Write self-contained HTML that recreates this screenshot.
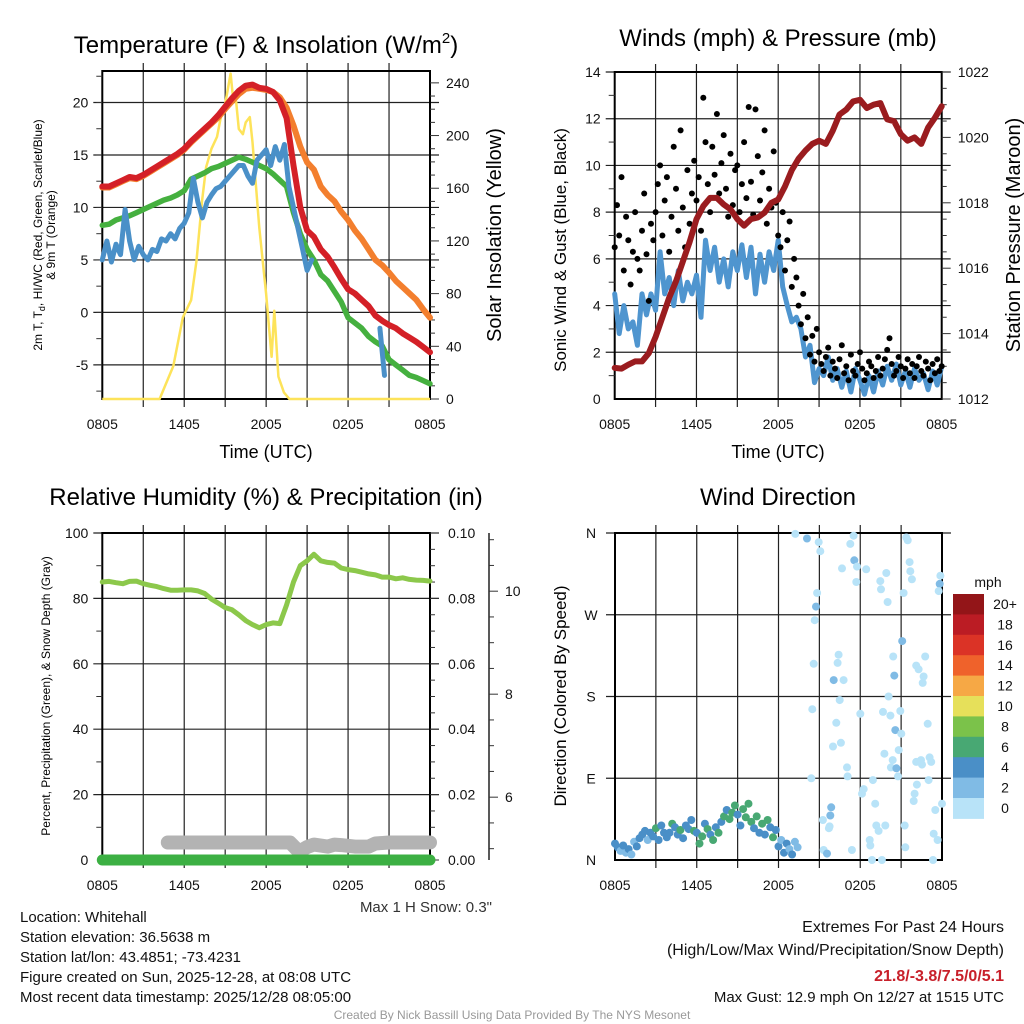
<!DOCTYPE html>
<html><head><meta charset="utf-8"><title>Mesonet Station Chart</title>
<style>
html,body{margin:0;padding:0;background:#fff;}
svg{display:block;font-family:"Liberation Sans",Arial,sans-serif;}
</style></head>
<body>
<svg id="chart" xmlns="http://www.w3.org/2000/svg" width="1024" height="1024" viewBox="0 0 1024 1024">
<rect width="1024" height="1024" fill="#fff"/>
<g id="p1"></g>
<g id="p2"></g>
<g id="p3"></g>
<g id="p4"></g>

<text x="266" y="53" text-anchor="middle" font-size="24">Temperature (F) &amp; Insolation (W/m<tspan dy="-10" font-size="15">2</tspan><tspan dy="10">)</tspan></text>
<text x="778" y="46" text-anchor="middle" font-size="24">Winds (mph) &amp; Pressure (mb)</text>
<text x="266" y="505" text-anchor="middle" font-size="24">Relative Humidity (%) &amp; Precipitation (in)</text>
<text x="778" y="505" text-anchor="middle" font-size="24">Wind Direction</text>

<text x="266" y="458" text-anchor="middle" font-size="18">Time (UTC)</text>
<text x="778" y="458" text-anchor="middle" font-size="18">Time (UTC)</text>
<text transform="translate(42,235) rotate(-90)" text-anchor="middle" font-size="12">2m T, T<tspan dy="3" font-size="9">d</tspan><tspan dy="-3">, HI/WC (Red, Green, Scarlet/Blue)</tspan></text>
<text transform="translate(55,235) rotate(-90)" text-anchor="middle" font-size="12">&amp; 9m T (Orange)</text>
<text transform="translate(501,235) rotate(-90)" text-anchor="middle" font-size="20">Solar Insolation (Yellow)</text>
<text transform="translate(566,250) rotate(-90)" text-anchor="middle" font-size="17">Sonic Wind &amp; Gust (Blue, Black)</text>
<text transform="translate(1020,235) rotate(-90)" text-anchor="middle" font-size="20">Station Pressure (Maroon)</text>
<text transform="translate(50,696) rotate(-90)" text-anchor="middle" font-size="12">Percent, Precipitation (Green), &amp; Snow Depth (Gray)</text>
<text transform="translate(566,696) rotate(-90)" text-anchor="middle" font-size="17">Direction (Colored By Speed)</text>

<text x="492" y="912" text-anchor="end" font-size="15" fill="#333">Max 1 H Snow: 0.3"</text>
<g font-size="15" fill="#111">
<text x="20" y="922">Location: Whitehall</text>
<text x="20" y="942">Station elevation: 36.5638 m</text>
<text x="20" y="962">Station lat/lon: 43.4851; -73.4231</text>
<text x="20" y="982">Figure created on Sun, 2025-12-28, at 08:08 UTC</text>
<text x="20" y="1002">Most recent data timestamp: 2025/12/28 08:05:00</text>
</g>
<g font-size="16" fill="#111" text-anchor="end">
<text x="1004" y="932">Extremes For Past 24 Hours</text>
<text x="1004" y="955">(High/Low/Max Wind/Precipitation/Snow Depth)</text>
<text x="1004" y="981" fill="#c8202a" font-weight="bold">21.8/-3.8/7.5/0/5.1</text>
<text x="1004" y="1002" font-size="15">Max Gust: 12.9 mph On 12/27 at 1515 UTC</text>
</g>
<text x="512" y="1019" text-anchor="middle" font-size="12" fill="#999">Created By Nick Bassill Using Data Provided By The NYS Mesonet</text>
</svg>
<script>
// ---------- DATA ----------
const xTickLabels = ["0805","1405","2005","0205","0805"];
const halfHours = [0,0.5,1,1.5,2,2.5,3,3.5,4,4.5,5,5.5,6,6.5,7,7.5,8,8.5,9,9.5,10,10.5,11,11.5,12,12.5,13,13.5,14,14.5,15,15.5,16,16.5,17,17.5,18,18.5,19,19.5,20,20.5,21,21.5,22,22.5,23,23.5,24];
const temp2m = [12.0,12.0,12.3,12.6,12.9,12.8,13.1,13.5,13.9,14.3,14.7,15.1,15.6,16.3,16.9,17.5,18.1,18.8,19.6,20.4,21.1,21.6,21.7,21.4,21.3,21.0,20.2,18.5,14.0,10.0,7.8,7.2,6.0,5.3,4.3,3.2,2.2,1.8,1.2,0.6,-0.3,-0.8,-1.2,-1.5,-2.0,-2.4,-2.8,-3.3,-3.8];
const temp9m = [11.9,11.9,12.2,12.5,12.8,12.7,13.0,13.4,13.8,14.2,14.6,15.0,15.5,16.2,16.8,17.4,18.0,18.6,19.4,20.1,20.8,21.3,21.4,21.3,21.2,21.0,20.5,19.5,17.8,15.8,14.3,13.6,12.0,11.2,10.6,9.6,8.8,7.8,7.0,6.0,5.0,4.5,3.8,3.0,2.4,1.8,1.2,0.3,-0.5];
const dewpoint = [8.3,8.4,8.8,9.0,9.2,9.5,9.8,10.1,10.4,10.7,10.9,11.2,11.6,12.7,13.0,13.3,13.7,13.9,14.2,14.5,14.8,14.6,14.3,14.0,13.7,13.2,12.6,12.0,9.5,7.5,6.0,5.0,3.6,3.0,2.0,1.0,-0.5,-1.0,-1.5,-2.3,-2.8,-3.2,-4.5,-5.0,-5.5,-6.0,-6.2,-6.5,-6.8];
const windChill = [5.0,6.8,4.8,6.5,5.5,9.8,6.8,5.0,6.3,5.5,5.0,6.0,5.8,7.0,6.8,7.5,7.0,8.0,8.5,9.5,12.8,10.5,9.0,10.5,11.2,11.8,12.0,12.5,13.0,13.5,14.0,14.0,13.0,12.3,14.5,15.0,15.5,14.0,15.8,14.5,16.0,12.0,10.0,8.0,6.0,4.0,5.0,null,null,null,null,null,null,null,null,null,null,null,null,null,null,-1.5,-6.0,null,null,null,null,null,null,null,null,null,null];
const solarTimes = [0,4.2,5.2,5.9,6.5,6.9,7.3,7.6,8.0,8.4,8.7,9.0,9.4,9.6,9.8,10.0,10.3,10.5,10.8,11.0,11.5,12.0,12.4,12.6,12.9,13.3,13.7,24];
const solarValues = [0,0,25,62,75,105,150,176,190,199,215,224,247,226,226,205,201,210,214,195,130,80,32,67,17,5,0,0];
const pressure = [1012.95,1012.93,1013.05,1013.15,1013.15,1013.4,1013.9,1014.5,1015.1,1015.6,1016.2,1016.8,1017.5,1017.9,1018.15,1018.15,1017.95,1017.8,1017.5,1017.3,1017.5,1017.55,1017.7,1018.0,1018.1,1018.5,1019.0,1019.35,1019.6,1019.8,1019.9,1019.8,1020.2,1020.7,1020.85,1021.1,1021.15,1020.9,1021.0,1021.05,1020.55,1020.5,1020.1,1019.9,1020.0,1019.8,1020.3,1020.6,1020.95];
const windSpeed = [4.5,2.8,4.0,3.0,3.3,2.3,4.5,3.6,4.5,3.8,6.3,4.5,5.2,4.0,5.5,4.2,5.0,4.5,5.3,3.5,6.8,5.5,6.5,5.0,6.0,4.8,6.3,5.5,6.6,5.2,6.5,4.5,6.2,5.0,6.3,5.5,6.8,4.8,4.0,3.3,3.5,3.0,1.8,2.3,0.7,1.3,1.0,1.8,0.8,1.3,0.5,1.2,0.3,1.3,0.8,0.2,1.0,0.3,1.2,0.6,1.4,0.8,1.5,0.6,1.2,0.5,1.3,0.8,1.1,0.4,1.2,0.6,1.4];
const windGust = [6.5,8.3,7.0,9.5,5.5,7.8,6.8,4.9,6.3,8.0,6.0,5.5,7.2,8.8,6.2,4.2,7.5,6.8,
8.0,9.2,10.0,7.0,8.5,9.5,6.3,7.8,10.8,9.0,7.2,11.5,8.2,6.5,9.8,7.5,8.8,10.2,
8.5,9.5,7.2,12.9,11.0,9.2,8.0,10.8,9.6,12.2,8.8,10.1,11.3,9.0,7.8,10.5,8.3,9.8,
10.0,8.0,9.2,11.0,8.6,12.5,9.3,7.9,12.4,10.4,8.5,9.7,11.5,7.5,9.0,8.2,10.6,8.4,
7.0,6.5,8.0,5.5,6.8,7.6,4.8,6.0,5.2,
4.0,3.2,4.5,2.6,3.5,1.9,2.7,1.6,3.0,
2.0,1.5,1.2,1.8,2.2,1.0,1.6,1.3,0.9,1.7,2.3,1.1,1.4,0.8,1.9,1.2,1.0,1.5,2.0,1.3,0.8,1.1,1.6,1.4,0.9,1.2,1.8,1.0,1.3,1.7,2.1,2.6,1.5,1.0,1.2,1.8,1.4,0.9,1.3,1.7,1.1,1.5,0.9,1.4,1.8,1.2,1.0,1.6,1.3,0.8,1.5,1.1,1.7,1.2,1.4];
const humidity = [85,85.2,84.8,84.5,85.2,85.3,84.5,84.0,83.6,83.0,82.5,82.5,82.6,82.6,82.3,81.5,79.8,78.5,77.2,76.5,75.0,73.2,72.0,71.0,72.0,72.5,72.3,78.0,85.0,90.0,91.5,93.5,91.5,91.0,90.8,89.3,88.8,88.5,88.0,87.5,87.2,86.5,86.5,86.0,86.3,85.8,85.6,85.5,85.3];
const precip = [0,0,0,0,0,0,0,0,0,0,0,0,0,0,0,0,0,0,0,0,0,0,0,0,0,0,0,0,0,0,0,0,0,0,0,0,0,0,0,0,0,0,0,0,0,0,0,0,0];
const snowTimes = [4.8,13.75,14.3,14.6,15.0,15.5,16.0,16.5,17.0,17.5,18.5,19.5,20.0,21.0,22.0,23.0,24];
const snowDepth = [5.12,5.12,4.97,4.97,5.03,5.08,5.06,5.04,5.08,5.07,5.04,5.04,5.10,5.12,5.12,5.12,5.12];
const dirEarly = [18,14,10,16,8,12,6,20,15,24,28,32,22,30,26,35,22,38,30,25,30,40,36,28,33,24,38,34,44,32,30,18,26,40,34,28,22,36,30,42,48,55,45,52,60,50,38,56,47,62,42,35,48,30,40,28,44,36,25,33,15,22,8,18,12,6,20,14];
const spdEarly = [4,4,2,4,2,4,2,3,4,4,4,4,3,4,5,6,4,4,5,4,4,6,5,4,6,4,5,4,4,7,5,7,6,5,6,4,7,5,6,5,6,5,6,7,6,5,4,6,6,7,6,5,6,4,7,5,6,4,6,4,4,3,4,4,2,4,3,2];
const dirLateTimes = [13.23,14.09,14.83,14.75,14.66,14.58,14.48,14.41,14.95,15.07,16.05,16.41,16.34,16.78,16.49,16.24,16.58,16.00,17.03,17.07,15.87,15.80,15.26,15.75,15.70,15.31,15.56,16.66,17.27,17.51,17.56,17.76,18.44,17.71,18.00,18.13,18.25,18.93,19.10,19.18,19.35,18.69,18.74,17.39,18.86,19.59,19.91,19.47,19.52,20.01,20.08,19.67,20.21,20.94,20.57,21.01,20.82,19.77,20.38,20.25,20.65,20.77,19.84,21.26,21.31,21.08,20.50,20.42,21.18,21.48,21.38,21.62,21.67,21.79,22.11,22.28,22.77,22.65,22.58,22.95,22.16,22.46,22.53,23.09,23.21,23.02,21.99,21.92,23.39,23.68,23.51,24.0,23.34,23.88,23.83,23.76,22.11];
const dirLate = [359,354,294,279,264,216,166,90,350,340,198,226,217,198,176,151,129,125,102,92,58,49,44,37,35,11,7,321,348,357,330,323,320,306,161,73,78,88,62,38,32,22,16,11,0,0,316,307,298,284,180,163,159,164,143,139,121,117,110,102,101,92,38,38,14,241,203,224,294,352,355,328,318,309,214,210,224,202,195,150,83,110,105,113,108,88,73,65,29,22,55,62,0,313,304,296,108];
const spdLate = [1,3,1,3,1,1,1,1,1,1,3,1,1,1,1,1,1,1,1,1,3,3,1,1,1,1,3,1,1,1,3,1,1,1,1,1,1,1,1,1,1,1,1,1,1,1,1,1,1,1,1,1,1,1,3,1,1,1,1,1,3,1,1,1,1,3,3,1,1,1,1,1,1,1,1,1,1,1,1,1,1,1,1,1,1,1,1,1,1,1,1,1,1,1,3,1,1];
const speedBins = ["20+","18","16","14","12","10","8","6","4","2","0"];
const speedColors = ["#931518","#bb1c24","#db3326","#ef622b","#f6a845","#e6e05a","#7bc24a","#48a873","#4a8fc7","#80bbe5","#b8e3f8"];

// ---------- HELPERS ----------
const NS = "http://www.w3.org/2000/svg";
function mk(parent, tag, attrs){
  const e = document.createElementNS(NS, tag);
  for (const k in attrs) e.setAttribute(k, attrs[k]);
  parent.appendChild(e);
  return e;
}
function lin(d0,d1,r0,r1){ return v => r0 + (v-d0)/(d1-d0)*(r1-r0); }
function pathD(xs, ys, xf, yf){
  let d = "", pen = false;
  for (let i=0;i<xs.length;i++){
    if (ys[i]===null || ys[i]===undefined){ pen=false; continue; }
    d += (pen?"L":"M") + xf(xs[i]).toFixed(1) + "," + yf(ys[i]).toFixed(1);
    pen = true;
  }
  return d;
}
function idxTimes(n, step){ const a=[]; for(let i=0;i<n;i++) a.push(i*step); return a; }

function frame(g, L, R, T, B, hLines, vLines){
  for (const y of hLines){
    const l = mk(g,"line",{x1:L-9,x2:R+9,y1:y,y2:y,stroke:"#222","stroke-width":1.2});
    
    
  }
  for (const x of vLines){
    const l = mk(g,"line",{x1:x,x2:x,y1:T-8,y2:B+8,stroke:"#222","stroke-width":1.2});
    
    
  }
  const b = mk(g,"rect",{x:L,y:T,width:R-L,height:B-T,fill:"none",stroke:"#000","stroke-width":2});
  
  
}
function tick(g,x1,y1,x2,y2){
  const t = mk(g,"line",{x1:x1,y1:y1,x2:x2,y2:y2,stroke:"#333","stroke-width":1});
  
  
}
function label(g,x,y,txt,anchor,size){
  const t = mk(g,"text",{x:x,y:y,"text-anchor":anchor,"font-size":size||14,fill:"#111"});
  t.textContent = txt;
  
  
  return t;
}

// ---------- PANEL 1 ----------
(function(){
  const g = document.getElementById("p1");
  const L=102.3,R=430,T=71,B=399;
  const xs = lin(0,24,L,R), ys = lin(-8.25,23,B,T), yr = lin(0,249,B,T);
  const h=[]; for(let v=-5;v<=20;v+=5) h.push(ys(v));
  const vl=[]; for(let t=3;t<24;t+=3) vl.push(xs(t));
  frame(g,L,R,T,B,h,vl);
  for(let v=-7.5;v<=22.5;v+=2.5) tick(g,L-6,ys(v),L,ys(v));
  for(let v=-5;v<=20;v+=5) label(g,L-14,ys(v)+5,String(v),"end");
  for(let v=0;v<=240;v+=10) tick(g,R,yr(v),R+(v%40===0?9:5),yr(v));
  for(let v=0;v<=240;v+=40) label(g,R+16,yr(v)+5,String(v),"start");
  for(let i=0;i<xTickLabels.length;i++) label(g,xs(i*6),B+30,xTickLabels[i],"middle");
  const sol = mk(g,"path",{d:pathD(solarTimes,solarValues,xs,yr),fill:"none",stroke:"#fde35a","stroke-width":2.5,"stroke-linejoin":"round"});
  
  
  const o = mk(g,"path",{d:pathD(halfHours,temp9m,xs,ys),fill:"none",stroke:"#f37f2e","stroke-width":6,"stroke-linejoin":"round","stroke-linecap":"round"});
  
  
  const gr = mk(g,"path",{d:pathD(halfHours,dewpoint,xs,ys),fill:"none",stroke:"#45b03f","stroke-width":5.5,"stroke-linejoin":"round","stroke-linecap":"round"});
  
  
  const bl = mk(g,"path",{d:pathD(idxTimes(windChill.length,1/3),windChill,xs,ys),fill:"none",stroke:"#4a90c8","stroke-width":5,"stroke-linejoin":"round","stroke-linecap":"round"});
  
  
  const r = mk(g,"path",{d:pathD(halfHours,temp2m,xs,ys),fill:"none",stroke:"#d42027","stroke-width":6,"stroke-linejoin":"round","stroke-linecap":"round"});
  
  
})();

// ---------- PANEL 2 ----------
(function(){
  const g = document.getElementById("p2");
  const L=614.7,R=941.7,T=72,B=399;
  const xs = lin(0,24,L,R), ys = lin(0,14,B,T), yp = lin(1012,1022,B,T);
  const h=[]; for(let v=2;v<=14;v+=2) h.push(ys(v));
  const vl=[]; for(let t=3;t<24;t+=3) vl.push(xs(t));
  frame(g,L,R,T,B,h,vl);
  for(let v=1;v<=13;v+=2) tick(g,L-6,ys(v),L,ys(v));
  for(let v=0;v<=14;v+=2) label(g,L-14,ys(v)+5,String(v),"end");
  for(let v=1012;v<=1022;v+=0.5) tick(g,R,yp(v),R+(v%2===0?9:5),yp(v));
  for(let v=1012;v<=1022;v+=2) label(g,R+16,yp(v)+5,String(v),"start");
  for(let i=0;i<xTickLabels.length;i++) label(g,xs(i*6),B+30,xTickLabels[i],"middle");
  const w = mk(g,"path",{d:pathD(idxTimes(windSpeed.length,1/3),windSpeed,xs,ys),fill:"none",stroke:"#4f95cf","stroke-width":5,"stroke-linejoin":"round","stroke-linecap":"round"});
  
  
  for(let i=0;i<windGust.length;i++){
    const c = mk(g,"circle",{cx:xs(i/6).toFixed(1),cy:ys(windGust[i]).toFixed(1),r:3,fill:"#000"});
    
    
  }
  const p = mk(g,"path",{d:pathD(halfHours,pressure,xs,yp),fill:"none",stroke:"#9a1c1f","stroke-width":6,"stroke-linejoin":"round","stroke-linecap":"round"});
  
  
})();

// ---------- PANEL 3 ----------
(function(){
  const g = document.getElementById("p3");
  const L=102.3,R=430,T=533,B=860;
  const xs = lin(0,24,L,R), ys = lin(0,100,B,T), yr = lin(0,0.1,B,T), yz = lin(4.78,11.13,B,T);
  const h=[]; for(let v=20;v<=100;v+=20) h.push(ys(v));
  const vl=[]; for(let t=3;t<24;t+=3) vl.push(xs(t));
  frame(g,L,R,T,B,h,vl);
  for(let v=10;v<=90;v+=20) tick(g,L-6,ys(v),L,ys(v));
  for(let v=0;v<=100;v+=20) label(g,L-14,ys(v)+5,String(v),"end");
  for(let k=0;k<=20;k++) tick(g,R,yr(k*0.005),R+(k%4===0?9:5),yr(k*0.005));
  for(let k=0;k<=5;k++) label(g,R+18,yr(k*0.02)+5,(k*0.02).toFixed(2),"start");
  for(let i=0;i<xTickLabels.length;i++) label(g,xs(i*6),B+30,xTickLabels[i],"middle");
  const ax = mk(g,"line",{x1:489,x2:489,y1:T,y2:B,stroke:"#222","stroke-width":1.5});
  
  
  for(let v=5;v<=11;v+=0.5) tick(g,489,yz(v),489+(v%2===0?9:5),yz(v));
  for(let v=6;v<=10;v+=2) label(g,505,yz(v)+5,String(v),"start");
  const s = mk(g,"path",{d:pathD(snowTimes,snowDepth,xs,yz),fill:"none",stroke:"#b3b3b3","stroke-width":14,"stroke-linejoin":"round","stroke-linecap":"round"});
  
  
  const pr = mk(g,"path",{d:pathD(halfHours,precip,xs,yr),fill:"none",stroke:"#3cb043","stroke-width":11,"stroke-linecap":"round"});
  
  
  const rh = mk(g,"path",{d:pathD(halfHours,humidity,xs,ys),fill:"none",stroke:"#8cc84b","stroke-width":5,"stroke-linejoin":"round","stroke-linecap":"round"});
  
  
})();

// ---------- PANEL 4 ----------
(function(){
  const g = document.getElementById("p4");
  const L=615,R=942,T=533,B=860;
  const xs = lin(0,24,L,R), ys = lin(0,360,B,T);
  const dirLabels = ["N","E","S","W","N"];
  const h=[]; for(let v=90;v<=360;v+=90) h.push(ys(v));
  const vl=[]; for(let t=3;t<24;t+=3) vl.push(xs(t));
  frame(g,L,R,T,B,h,vl);
  for(let i=0;i<5;i++) label(g,L-24,ys(i*90)+5,dirLabels[i],"middle");
  for(let i=0;i<xTickLabels.length;i++) label(g,xs(i*6),B+30,xTickLabels[i],"middle");
  function col(s){ let b = Math.min(10, Math.floor(s/2)); return speedColors[10-b]; }
  for(let i=0;i<dirLate.length;i++){
    const c = mk(g,"circle",{cx:xs(dirLateTimes[i]).toFixed(1),cy:ys(dirLate[i]).toFixed(1),r:4,fill:col(spdLate[i])});
    
    
  }
  for(let i=0;i<dirEarly.length;i++){
    const c = mk(g,"circle",{cx:xs(i*0.2).toFixed(1),cy:ys(dirEarly[i]).toFixed(1),r:4,fill:col(spdEarly[i])});
    
    
  }
  const cb = mk(g,"g",{});
  
  
  const lt = mk(cb,"text",{x:988,y:587,"font-size":14,"text-anchor":"middle",fill:"#111"});
  lt.textContent = "mph";
  
  
  for(let i=0;i<speedBins.length;i++){
    const y0 = 594 + i*20.4;
    const r = mk(cb,"rect",{x:953,y:y0.toFixed(1),width:31,height:20.9,fill:speedColors[i]});
    
    
    const t = mk(cb,"text",{x:1005,y:(y0+15).toFixed(1),"font-size":14,"text-anchor":"middle",fill:"#111"});
    t.textContent = speedBins[i];
    
    
  }
})();
</script>
</body></html>
